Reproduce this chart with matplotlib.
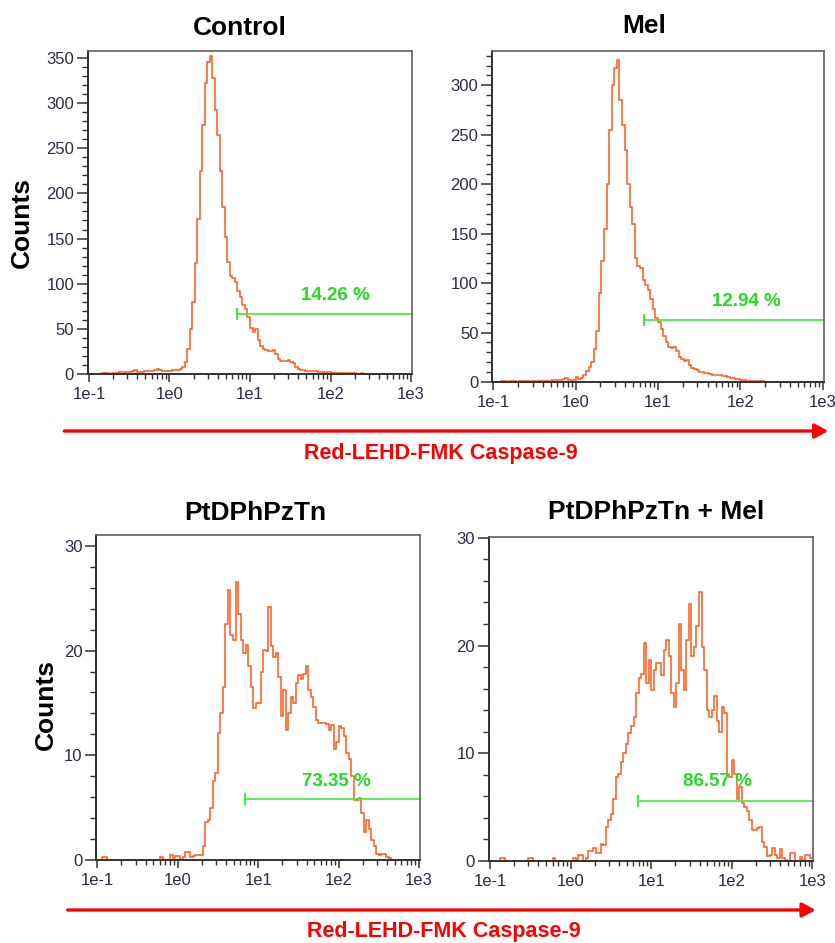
import numpy as np
import matplotlib
matplotlib.use("Agg")
import matplotlib.pyplot as plt
from matplotlib.patches import FancyArrowPatch
from matplotlib.ticker import FixedLocator, FixedFormatter, MultipleLocator, LogLocator, NullFormatter

# ---------------- data ----------------
titles = ["Control", "Mel", "PtDPhPzTn", "PtDPhPzTn + Mel"]
gate_pct = ["14.26 %", "12.94 %", "73.35 %", "86.57 %"]
gate_start = [6.84, 6.8, 6.87, 6.8]      # fluorescence where gate begins
gate_level = [66.8, 62.4, 5.8, 5.6]      # counts height of gate bar
x_tick_vals = [0.1, 1, 10, 100, 1000]
x_tick_labels = ["1e-1", "1e0", "1e1", "1e2", "1e3"]
y_max = [357.7, 334.7, 31.07, 30.08]
y_major = [50, 50, 10, 10]
y_minor = [10, 10, 2, 2]
axis_label = "Red-LEHD-FMK Caspase-9"

BINS_PER_DECADE = 32
N_BINS = 128   # 1e-1 .. 1e3

control_start = 5
control_counts = [1, 1, 1, 0.5, 1, 1, 1, 2, 2, 2,
                  2, 2, 3, 4.5, 2, 2, 2, 3, 3, 3, 3, 4, 5.5, 4, 3.5, 3.5, 3, 3.5, 4, 4.5, 4.5, 5,
                  8, 13, 28, 50, 80, 123, 172, 225, 276, 322, 345, 352, 328, 292, 265, 225, 185, 152, 124, 108,
                  106, 102, 92, 85, 76, 72, 63, 51, 47, 50, 38, 31, 28, 27, 26, 25, 27, 22, 17, 14,
                  14, 14, 15, 13, 12, 8, 5, 4, 4, 3.5, 3.5, 3, 3.5, 3, 2.5, 2, 2, 2, 2, 1.5,
                  1, 1, 1, 1, 1, 0.5, 1, 0.5, 1, 0.5, 0.5, 1, 0, 0]

mel_start = 3
mel_counts = [1, 1, 0, 1, 1, 1, 0.5,
              1, 1, 1, 1.5, 1.5, 1.5, 1.5, 1.5, 1, 1,
              1, 1, 1.5, 2, 2.5, 2.5, 2.5, 3, 4, 2, 2, 2, 5.5, 3.5, 4,
              7, 11, 15, 20, 33, 52, 90, 122, 155, 200, 255, 300, 318, 326, 285, 260, 235, 200, 177, 160,
              125, 117, 115, 103, 98, 93, 84, 74, 65, 61, 54, 47, 40, 35, 34, 35, 31, 25, 23, 21,
              22, 17, 14, 13, 12, 10.5, 9.8, 9.5, 9.5, 8, 7, 7, 7.5, 7, 6, 5.7, 5, 4, 3.7, 3.4,
              3, 2.4, 2, 1, 1, 1, 1, 1, 1.5, 1, 0, 0, 0.5, 0, 0, 0.5, 0, 0, 0, 0.5, 0]

pt_start = 2
pt_counts = [0.3, 0.3,
             0, 0, 0, 0, 0, 0, 0, 0, 0, 0, 0, 0, 0, 0, 0, 0, 0, 0, 0, 0,
             0, 0.3, 0, 0, 0, 0.5, 0.2, 0.4, 0.4, 0.1, 0.3, 0.8, 0.8, 0.3, 0.4, 0.5, 0.5, 0.5,
             1.3, 3.6, 3.8, 5.0, 7.5, 8.3, 12.1, 14, 16.5, 22.5, 25.8, 21.5, 21, 26.6, 23.5, 21, 19.8, 20.5, 18.5, 16.5,
             14.5, 15, 15, 18, 20.1, 20, 24.2, 20.4, 19.4, 19.8, 17.5, 13.8, 16.2, 12.4, 14, 15.6, 15, 16.9, 17.7, 17.3,
             17.8, 18.5, 16.2, 15.6, 14.6, 13.4, 13.1, 13.1, 13.1, 13, 12.4, 12.9, 10.6, 11.3, 12.8, 12.6, 11.8, 10.2, 9.6, 8,
             5.7, 5.7, 5.9, 4.5, 2.7, 3.8, 3.0, 1.9, 1.3, 0.6, 0.5, 0.6, 0.6, 0.3, 0.2]

ptmel_start = 4
ptmel_counts = [0.25, 0.25,
                0, 0, 0, 0, 0, 0, 0, 0, 0,
                0.25, 0.25,
                0, 0, 0, 0, 0, 0, 0, 0,
                0.25,
                0, 0, 0, 0, 0, 0, 0,
                0.25, 0,
                0.55, 0.55, 0, 0.25, 0.9, 0.9, 1.2, 0.7, 0.7, 1.6, 1.5,
                3.2, 3.8, 4.4, 5.8, 7.8, 8.1, 9.2, 10, 10.9, 11.9, 12.5, 13.4, 15.6, 17, 17.4, 20.2, 16.5, 18.7, 15.9, 17.7,
                18.4, 18.4, 17.3, 19.6, 20.5, 19, 15.6, 14.3, 16.5, 22, 17.7, 15.9, 20.5, 23.9, 19, 19.9, 21.8, 25, 19.9, 17.7,
                14, 13.4, 14, 15.3, 13, 12, 14.3, 13.7, 8.1, 7.8, 9.4, 8.1, 5.8, 6.9, 5.4, 5, 4.6, 3.8, 2.9, 2.9,
                3.1, 3.2, 1.8, 1.3, 0.5, 0.55, 1.2, 0.55, 0.25, 1.1, 0.25, 0.1, 0, 0.7, 0.7, 0, 0, 0.4, 0.1, 0.55, 0.55, 0.3]

series = [(control_start, control_counts), (mel_start, mel_counts),
          (pt_start, pt_counts), (ptmel_start, ptmel_counts)]

# ---------------- style ----------------
W, H = 835, 943
HIST_COLOR = "#FF5A1A"
GATE_COLOR = "#3CEB3C"
GATE_TEXT = "#22DD22"
RED = "#FF0000"
TICK_TEXT = "#2b2b45"
BOLD = ["Liberation Sans", "DejaVu Sans"]
NARROW = ["Liberation Sans Narrow", "Liberation Sans", "DejaVu Sans"]

fig = plt.figure(figsize=(W / 100, H / 100), dpi=100)

def px_rect(l, t, r, b):
    return [l / W, 1 - b / H, (r - l) / W, (b - t) / H]

rects = [px_rect(88, 51, 412, 374), px_rect(492.3, 51, 823.7, 382),
         px_rect(96.3, 534.7, 420, 860), px_rect(489, 537, 813.3, 861)]
gate_text_pos = [(0.765, 0.2415), (0.7655, 0.2426), (0.7405, 0.2407), (0.705, 0.2448)]
title_pos = [(240.3, 35), (644.3, 33.3), (255, 520), (655.8, 519.3)]

edges = 10.0 ** (np.arange(N_BINS + 1) / BINS_PER_DECADE - 1)
pad = 0.012

for i in range(4):
    ax = fig.add_axes(rects[i])
    start, vals = series[i]
    counts = np.zeros(N_BINS)
    counts[start:start + len(vals)] = vals
    ax.stairs(counts, edges, color=HIST_COLOR, lw=1.1, baseline=None)

    ax.set_xscale("log")
    ax.set_xlim(10 ** (-1 - pad), 10 ** (3 + pad))
    ax.set_ylim(0, y_max[i])

    ax.xaxis.set_major_locator(FixedLocator(x_tick_vals))
    ax.xaxis.set_major_formatter(FixedFormatter(x_tick_labels))
    ax.xaxis.set_minor_locator(LogLocator(base=10, subs=np.arange(2, 10), numticks=20))
    ax.xaxis.set_minor_formatter(NullFormatter())
    ax.yaxis.set_major_locator(MultipleLocator(y_major[i]))
    ax.yaxis.set_minor_locator(MultipleLocator(y_minor[i]))

    ax.tick_params(axis="x", which="major", direction="out", length=6, width=1.1,
                   color="#333333", labelsize=12, labelcolor=TICK_TEXT, pad=3.5)
    ax.tick_params(axis="x", which="minor", direction="out", length=3.6, width=1.0, color="#333333")
    ax.tick_params(axis="y", which="major", direction="out", length=8, width=1.1,
                   color="#333333", labelsize=12, labelcolor=TICK_TEXT, pad=2)
    ax.tick_params(axis="y", which="minor", direction="out", length=4.3, width=1.0, color="#333333")
    for lab in ax.get_xticklabels() + ax.get_yticklabels():
        lab.set_family(NARROW)

    for s in ["left", "bottom"]:
        ax.spines[s].set_color("#303030")
        ax.spines[s].set_linewidth(1.4)
    for s in ["top", "right"]:
        ax.spines[s].set_color("#606060")
        ax.spines[s].set_linewidth(1.2)

    # gate
    ax.plot([gate_start[i], 10 ** (3 + pad)], [gate_level[i], gate_level[i]],
            color=GATE_COLOR, lw=1.2, clip_on=False)
    ax.plot([gate_start[i]], [gate_level[i]], marker="|", ms=9, mew=1.4,
            color=GATE_COLOR)
    ax.text(gate_text_pos[i][0], gate_text_pos[i][1], gate_pct[i], transform=ax.transAxes,
            ha="center", va="center", color=GATE_TEXT, fontsize=13.5,
            fontweight="bold", family=BOLD)

    fig.text(title_pos[i][0] / W, 1 - title_pos[i][1] / H, titles[i], ha="center",
             va="baseline", fontsize=19, fontweight="bold", family=BOLD, color="black")

# y labels
fig.text(22.2 / W, 1 - 222.5 / H, "Counts", rotation=90, ha="center", va="center",
         fontsize=19, fontweight="bold", family=BOLD)
fig.text(46 / W, 1 - 705 / H, "Counts", rotation=90, ha="center", va="center",
         fontsize=19, fontweight="bold", family=BOLD)

# red arrows + labels
for (x0, x1, y, ly, lx) in [(64.3, 828.3, 431, 453, 441), (67.7, 815.7, 910, 931.5, 444)]:
    arr = FancyArrowPatch((x0 / W, 1 - y / H), (x1 / W, 1 - y / H), transform=fig.transFigure,
                          arrowstyle="-|>,head_length=8,head_width=4.3", mutation_scale=1,
                          lw=2.4, color=RED, shrinkA=0, shrinkB=0)
    fig.add_artist(arr)
    fig.text(lx / W, 1 - ly / H, axis_label, ha="center", va="center", color=RED,
             fontsize=15.5, fontweight="bold", family=BOLD)

fig.savefig("out.png", dpi=100)
